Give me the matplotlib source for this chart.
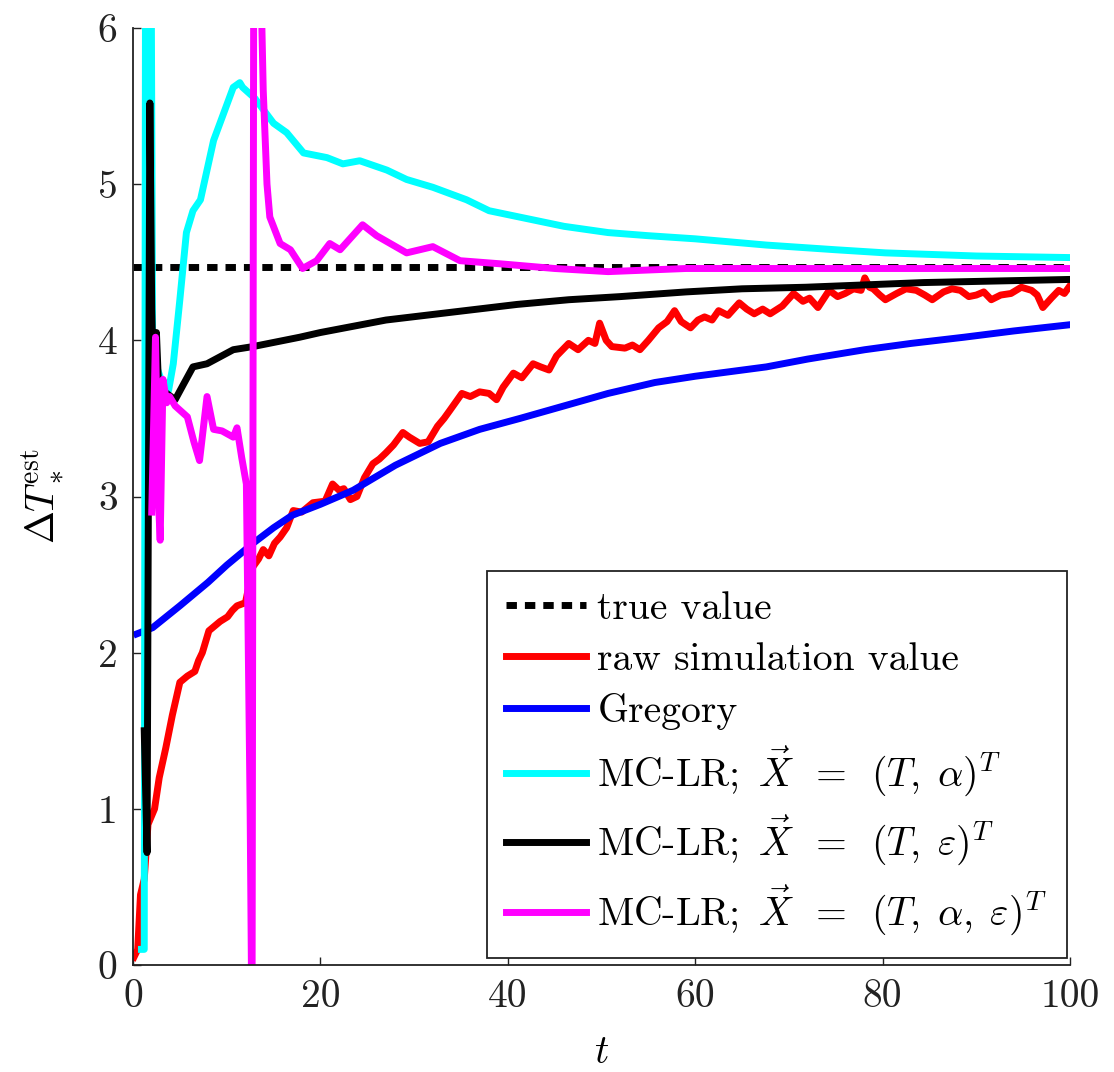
import matplotlib
matplotlib.use("Agg")
import matplotlib.pyplot as plt

plt.rcParams['font.family'] = 'serif'
plt.rcParams['font.serif'] = ['cmr10', 'DejaVu Serif']
plt.rcParams['mathtext.fontset'] = 'cm'
plt.rcParams['axes.unicode_minus'] = False
plt.rcParams['axes.formatter.use_mathtext'] = True

# ---------------- data ----------------
true_value = 4.47

t_raw = [0.1, 0.5, 0.8, 1.2, 1.6, 2.3, 2.8, 3.5, 4.2, 5.0, 5.4, 5.8, 6.6, 7.0, 7.4, 8.1,
         8.7, 9.3, 10.1, 10.6, 11.1, 12.0, 12.8, 13.4, 13.9, 14.5, 15.1, 15.7, 16.4,
         17.1, 18.0, 18.6, 19.2, 20.5, 21.3, 22.0, 22.5, 23.2, 23.9, 24.7, 25.6, 26.3,
         27.0, 27.8, 28.8, 29.5, 30.6, 31.5, 32.5, 33.2, 33.8, 35.1, 36.0, 37.0, 38.0,
         38.8, 39.5, 40.6, 41.5, 42.7, 43.5, 44.4, 45.2, 46.5, 47.5, 48.6, 49.3, 49.8,
         50.5, 51.1, 52.5, 53.3, 54.1, 55.0, 56.1, 57.0, 57.8, 58.5, 59.5, 60.3, 61.0,
         61.8, 62.5, 63.5, 64.7, 65.5, 66.3, 67.2, 68.0, 69.3, 70.5, 71.5, 72.2, 73.1,
         74.3, 75.2, 76.0, 76.9, 77.7, 78.1, 78.6, 79.0, 79.7, 80.3, 81.5, 82.5, 83.6,
         84.5, 85.3, 86.5, 87.4, 88.3, 89.2, 90.0, 90.8, 91.6, 92.6, 93.7, 94.8, 95.9,
         96.5, 97.1, 98.0, 98.8, 99.4, 100.0]
y_raw = [0.05, 0.1, 0.45, 0.55, 0.9, 1.0, 1.2, 1.39, 1.6, 1.81, 1.83, 1.85, 1.88, 1.95,
         2.0, 2.14, 2.17, 2.2, 2.23, 2.27, 2.30, 2.32, 2.55, 2.60, 2.66, 2.62, 2.70, 2.74,
         2.80, 2.91, 2.90, 2.93, 2.96, 2.97, 3.08, 3.04, 3.05, 2.98, 3.0, 3.12, 3.21,
         3.24, 3.28, 3.33, 3.41, 3.38, 3.34, 3.35, 3.45, 3.50, 3.55, 3.66, 3.64, 3.67,
         3.66, 3.62, 3.70, 3.79, 3.76, 3.85, 3.83, 3.81, 3.90, 3.98, 3.94, 4.00, 3.98,
         4.11, 4.00, 3.96, 3.95, 3.97, 3.94, 4.00, 4.08, 4.12, 4.19, 4.12, 4.08, 4.13,
         4.15, 4.13, 4.19, 4.16, 4.24, 4.20, 4.17, 4.20, 4.17, 4.22, 4.30, 4.25, 4.27,
         4.21, 4.32, 4.28, 4.30, 4.33, 4.32, 4.40, 4.34, 4.33, 4.29, 4.26, 4.30, 4.33,
         4.32, 4.29, 4.26, 4.31, 4.33, 4.32, 4.28, 4.29, 4.31, 4.26, 4.29, 4.30, 4.34,
         4.32, 4.29, 4.21, 4.27, 4.32, 4.30, 4.35]

t_greg = [0.4, 2.1, 5.0, 8.0, 10.0, 12.8, 15.0, 17.0, 20.0, 23.5, 28.0, 32.8, 37.0, 41.3,
          46.0, 50.7, 55.7, 60.0, 67.6, 72.0, 78.1, 83.0, 88.7, 94.0, 100.0]
y_greg = [2.12, 2.16, 2.30, 2.45, 2.56, 2.70, 2.80, 2.88, 2.95, 3.04, 3.20, 3.34, 3.43,
          3.50, 3.58, 3.66, 3.73, 3.77, 3.83, 3.88, 3.94, 3.98, 4.02, 4.06, 4.10]

t_ta = [0.9, 1.2, 1.35, 1.9, 2.1, 3.0, 3.8, 4.3, 5.0, 5.7, 6.4, 7.2, 8.6, 10.7, 11.4, 11.7,
        13.0, 15.0, 16.4, 18.2, 20.7, 22.4, 24.2, 27.1, 29.2, 32.0, 35.6, 38.0, 42.0,
        46.0, 50.7, 55.0, 60.0, 67.6, 75.0, 80.3, 90.0, 100.0]
y_ta = [0.1, 0.1, 7.0, 7.0, 3.9, 3.75, 3.68, 3.85, 4.26, 4.69, 4.83, 4.90, 5.28, 5.62,
        5.65, 5.62, 5.55, 5.39, 5.33, 5.20, 5.17, 5.13, 5.15, 5.09, 5.03, 4.98, 4.90,
        4.83, 4.78, 4.73, 4.69, 4.67, 4.65, 4.61, 4.58, 4.56, 4.54, 4.53]

t_te = [1.2, 1.5, 1.8, 2.0, 2.3, 2.5, 2.8, 3.6, 4.5, 5.4, 6.4, 7.9, 10.7, 12.8, 17.8, 20.0,
        27.0, 34.0, 41.0, 46.5, 52.0, 59.0, 65.0, 71.8, 84.4, 100.0]
y_te = [1.5, 0.72, 5.52, 4.2, 3.4, 4.05, 3.6, 3.66, 3.62, 3.72, 3.83, 3.85, 3.94, 3.96,
        4.02, 4.05, 4.13, 4.18, 4.23, 4.26, 4.28, 4.31, 4.33, 4.34, 4.37, 4.39]

t_tae = [2.0, 2.4, 2.7, 2.9, 3.2, 3.6, 3.9, 4.5, 5.8, 6.5, 7.1, 7.9, 8.6, 9.5, 10.7, 11.1,
         11.6, 12.1, 12.5, 12.7, 12.9, 13.4, 13.9, 14.3, 14.6, 15.7, 16.8, 18.1, 19.6,
         21.0, 22.1, 24.5, 26.0, 29.2, 32.0, 34.9, 39.2, 45.0, 50.7, 59.0, 100.0]
y_tae = [2.9, 4.02, 3.0, 2.72, 3.75, 3.6, 3.64, 3.58, 3.51, 3.35, 3.23, 3.64, 3.43, 3.42,
         3.38, 3.44, 3.25, 3.08, 1.0, -0.5, 7.0, 7.0, 5.6, 5.0, 4.79, 4.62, 4.58, 4.46,
         4.51, 4.62, 4.58, 4.74, 4.67, 4.56, 4.60, 4.51, 4.49, 4.46, 4.44, 4.46, 4.46]

x_ticks = [0, 20, 40, 60, 80, 100]
y_ticks = [0, 1, 2, 3, 4, 5, 6]

labels = ['true value', 'raw simulation value', 'Gregory',
          r'MC-LR; $\,\vec{X}\ \,=\ \,(T,\;\alpha)^T$',
          r'MC-LR; $\,\vec{X}\ \,=\ \,(T,\;\varepsilon)^T$',
          r'MC-LR; $\,\vec{X}\ \,=\ \,(T,\;\alpha,\;\varepsilon)^T$']
colors = ['black', 'red', 'blue', 'cyan', 'black', 'magenta']

# ---------------- plot ----------------
W, H = 1114, 1072
fig = plt.figure(figsize=(W / 100, H / 100), dpi=100)
ax = fig.add_axes([133 / W, 1 - 965 / H, (1070 - 133) / W, (965 - 28) / H])

lw = 5.0
ax.plot([0, 100], [true_value, true_value], color=colors[0], lw=lw,
        linestyle=(0, (1.5, 1.15)), dash_capstyle='butt', label=labels[0])
ax.plot(t_raw, y_raw, color=colors[1], lw=lw, label=labels[1])
ax.plot(t_greg, y_greg, color=colors[2], lw=lw, label=labels[2])
ax.plot(t_ta, y_ta, color=colors[3], lw=lw, label=labels[3])
ax.plot(t_te, y_te, color=colors[4], lw=lw, label=labels[4])
ax.plot(t_tae, y_tae, color=colors[5], lw=lw, label=labels[5])

ax.set_xlim(0, 100)
ax.set_ylim(0, 6)
ax.set_xticks(x_ticks)
ax.set_xticklabels([str(v) for v in x_ticks])
ax.set_yticks(y_ticks)
ax.set_yticklabels([str(v) for v in y_ticks])

fs = 28.5
ax.tick_params(direction='in', length=6, width=1.0, labelsize=fs, colors='#222222')
ax.tick_params(axis='x', pad=10)
ax.tick_params(axis='y', pad=11)
for s in ['top', 'right']:
    ax.spines[s].set_visible(False)
for s in ['left', 'bottom']:
    ax.spines[s].set_linewidth(1.3)
    ax.spines[s].set_color('#222222')

ax.set_xlabel(r'$t$', fontsize=fs)
ax.set_ylabel(r'$\Delta T_*^{\mathrm{est}}$', fontsize=fs)
ax.xaxis.set_label_coords(0.5, -0.075)
ax.yaxis.set_label_coords(-0.072, 0.5)

leg = ax.legend(loc='lower right', bbox_to_anchor=(0.997, 0.008), borderaxespad=0,
                fontsize=fs, frameon=True, fancybox=False, framealpha=1,
                edgecolor='#222222', handlelength=2.0, handletextpad=0.3,
                labelspacing=0.38, borderpad=0.5)
leg.get_frame().set_linewidth(1.3)

fig.savefig('out.png', dpi=100)
